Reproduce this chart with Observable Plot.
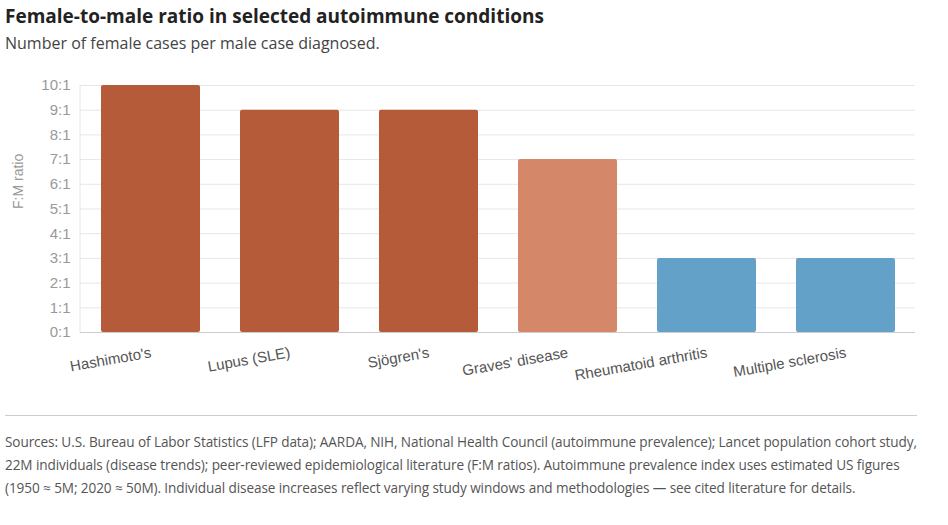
<!DOCTYPE html>
<html><head><meta charset="utf-8">
<script src="https://cdn.jsdelivr.net/npm/d3@7"></script>
<script src="https://cdn.jsdelivr.net/npm/@observablehq/plot@0.6"></script>
<style>
body{margin:0;font-family:"Segoe UI","Open Sans","Noto Sans",sans-serif;background:#fff;color:#222}
#t{padding:4px 5px 0;font-weight:700;font-size:19px;line-height:24px}
#s{padding:4px 5px 0;font-size:16px;color:#444;line-height:22px}
#c{margin:8px 5px 0;border-top:1px solid #ccc;padding-top:14px;font-size:13.6px;letter-spacing:-0.1px;color:#555;line-height:23px;width:912px}
svg{display:block}
</style></head><body>
<div id="t">Female-to-male ratio in selected autoimmune conditions</div>
<div id="s">Number of female cases per male case diagnosed.</div>
<div id="chart"></div>
<div id="c">Sources: U.S. Bureau of Labor Statistics (LFP data); AARDA, NIH, National Health Council (autoimmune prevalence); Lancet population cohort study, 22M individuals (disease trends); peer-reviewed epidemiological literature (F:M ratios). Autoimmune prevalence index uses estimated US figures (1950 ≈ 5M; 2020 ≈ 50M). Individual disease increases reflect varying study windows and methodologies — see cited literature for details.</div>
<script>
const conditions=["Hashimoto's","Lupus (SLE)","Sjögren's","Graves' disease","Rheumatoid arthritis","Multiple sclerosis"];
const ratios=[10,9,9,7,3,3];
const colors=["#b65b3a","#b65b3a","#b65b3a","#d5876a","#64a1c9","#64a1c9"];
const yTicks=[0,1,2,3,4,5,6,7,8,9,10];
const data=conditions.map((c,i)=>({c,v:ratios[i],col:colors[i]}));
const p=Plot.plot({
  width:948,height:353,marginLeft:80,marginRight:33,marginTop:31,marginBottom:75,
  style:{fontFamily:"Arial, Liberation Sans, sans-serif",fontSize:"15px",color:"#999"},
  x:{domain:conditions,paddingInner:0.29,paddingOuter:0.145,label:null},
  y:{domain:[0,10],label:null},
  marks:[
    Plot.gridY(yTicks,{stroke:"#e6e6e6",strokeOpacity:1}),
    Plot.barY(data,{x:"c",y:"v",fill:"col",rx:2}),
    Plot.ruleY([0],{stroke:"#ccc"}),
    Plot.axisY({ticks:yTicks,tickFormat:d=>d+":1",tickSize:0,tickPadding:10,label:null,fontSize:15,fill:"#999"}),
    Plot.text(["F:M ratio"],{frameAnchor:"left",dx:-62,rotate:-90,fill:"#999",fontSize:14}),
    Plot.axisX({tickRotate:-10,tickSize:0,tickPadding:20,label:null,fontSize:15,fill:"#555"})
  ]
});
const svg=d3.select(p);
svg.insert("line",":first-child").attr("x1",80).attr("x2",80).attr("y1",31).attr("y2",278).attr("stroke","#e6e6e6");
document.getElementById("chart").append(p);
</script></body></html>
